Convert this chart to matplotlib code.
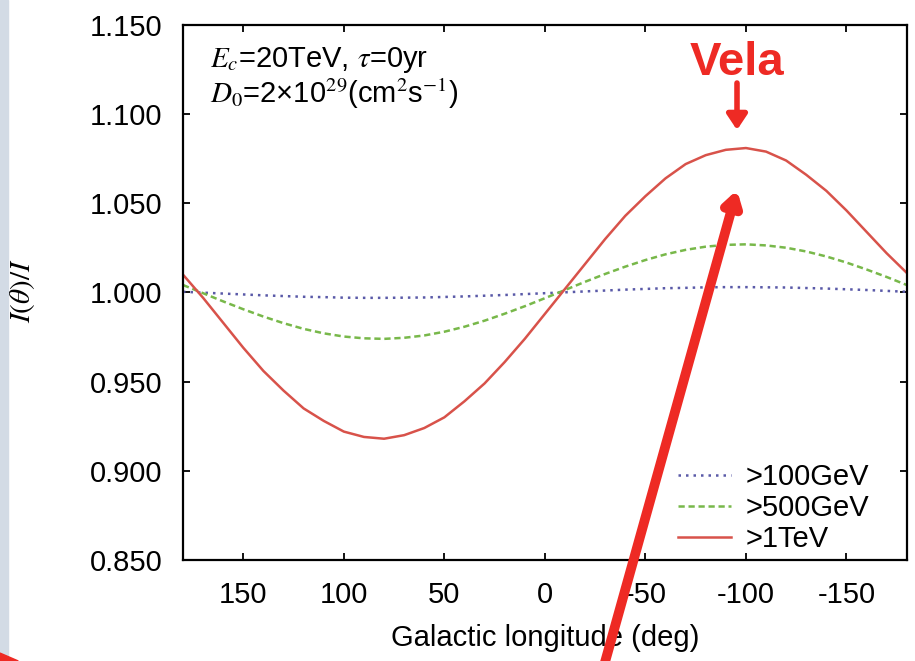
import matplotlib
matplotlib.use("Agg")
import matplotlib.pyplot as plt
from matplotlib.patches import Rectangle, Polygon

plt.rcParams['font.family'] = ['Liberation Sans', 'DejaVu Sans']
plt.rcParams['mathtext.fontset'] = 'stix'
plt.rcParams['axes.unicode_minus'] = False

# galactic longitude (deg) and relative intensity I(theta)/I
lon = [180, 170, 160, 150, 140, 130, 120, 110, 100, 90, 80, 70, 60, 50, 40, 30, 20, 10, 0,
       -10, -20, -30, -40, -50, -60, -70, -80, -90, -100, -110, -120, -130, -140, -150,
       -160, -170, -180]
i_100gev = [1.0004, 0.9999, 0.9994, 0.9989, 0.9984, 0.9980, 0.9976, 0.9974, 0.9971, 0.9970,
            0.9970, 0.9971, 0.9972, 0.9975, 0.9978, 0.9982, 0.9986, 0.9991, 0.9996,
            1.0001, 1.0006, 1.0011, 1.0016, 1.0020, 1.0024, 1.0026, 1.0029, 1.0030, 1.0030,
            1.0029, 1.0028, 1.0025, 1.0022, 1.0018, 1.0014, 1.0009, 1.0004]
i_500gev = [1.0042, 0.9996, 0.9950, 0.9906, 0.9865, 0.9828, 0.9796, 0.9771, 0.9753, 0.9743,
            0.9740, 0.9746, 0.9759, 0.9780, 0.9808, 0.9842, 0.9881, 0.9923, 0.9968,
            1.0014, 1.0060, 1.0104, 1.0145, 1.0182, 1.0214, 1.0239, 1.0257, 1.0267, 1.0270,
            1.0264, 1.0251, 1.0230, 1.0202, 1.0168, 1.0129, 1.0087, 1.0042]
i_1tev = [1.010, 0.997, 0.983, 0.969, 0.956, 0.945, 0.935, 0.928, 0.922, 0.919,
          0.918, 0.920, 0.924, 0.930, 0.939, 0.949, 0.961, 0.974, 0.988,
          1.002, 1.016, 1.030, 1.043, 1.054, 1.064, 1.072, 1.077, 1.080, 1.081,
          1.079, 1.074, 1.066, 1.057, 1.046, 1.034, 1.022, 1.011]

xticks = [150, 100, 50, 0, -50, -100, -150]
yticks = [0.85, 0.90, 0.95, 1.00, 1.05, 1.10, 1.15]

fig = plt.figure(figsize=(9.15, 6.61), dpi=100)
ax = fig.add_axes([0.2, 0.1528, 0.791, 0.8094])

ax.plot(lon, i_100gev, color='#5a5aa8', lw=1.8, ls=(0, (1, 2)), label='>100GeV')
ax.plot(lon, i_500gev, color='#78b84a', lw=1.8, ls=(0, (2.5, 1.5)), label='>500GeV')
ax.plot(lon, i_1tev, color='#d8524a', lw=1.8, label='>1TeV')

ax.set_xlim(180, -180)
ax.set_ylim(0.85, 1.15)
ax.set_xticks(xticks)
ax.set_yticks(yticks)
ax.set_yticklabels([f"{v:.3f}" for v in yticks])
ax.tick_params(direction='in', length=5, width=1.3, labelsize=21,
               top=True, right=True, pad=15)
for s in ax.spines.values():
    s.set_linewidth(1.6)

ax.set_xlabel("Galactic longitude (deg)", fontsize=21, labelpad=11)
fig.text(0.025, 0.56, r"$I(\theta)/I$", rotation=90, fontsize=21,
         ha='center', va='center')

ax.text(0.037, 0.9215, r"$E_c$=20TeV, $\tau$=0yr", transform=ax.transAxes,
        fontsize=21, va='baseline')
ax.text(0.037, 0.855, r"$D_0$=2×10$^{29}$(cm$^2$s$^{-1}$)", transform=ax.transAxes,
        fontsize=21, va='baseline')

leg = ax.legend(loc='lower right', bbox_to_anchor=(0.972, -0.02), frameon=False,
                fontsize=21, handlelength=1.8, handletextpad=0.5,
                labelspacing=0.1, borderaxespad=0.2)

# slide decorations
fig.patches.append(Rectangle((0, 0), 0.009, 1, transform=fig.transFigure,
                             color='#d3dbe5', zorder=0))
fig.patches.append(Polygon([(0, 0), (0.02, 0), (0, 0.012)], closed=True,
                           transform=fig.transFigure, color='#ee2a24', zorder=5))

red = '#ee2a24'
fig.text(737 / 915, 1 - 63 / 661, "Vela", color=red, fontsize=34, fontweight='bold',
         ha='center', va='center')
ax.annotate("", xy=(737 / 915, 1 - 130 / 661), xytext=(737 / 915, 1 - 83 / 661),
            xycoords='figure fraction', textcoords='figure fraction',
            annotation_clip=False,
            arrowprops=dict(arrowstyle='-|>,head_length=0.9,head_width=0.6',
                            color=red, lw=4, shrinkA=0, shrinkB=0))
ax.annotate("", xy=(737 / 915, 1 - 190 / 661), xytext=(600 / 915, 1 - 680 / 661),
            xycoords='figure fraction', textcoords='figure fraction',
            annotation_clip=False,
            arrowprops=dict(arrowstyle='-|>,head_length=0.8,head_width=0.5',
                            color=red, lw=7, shrinkA=0, shrinkB=0))

fig.savefig("out.png", dpi=100)
